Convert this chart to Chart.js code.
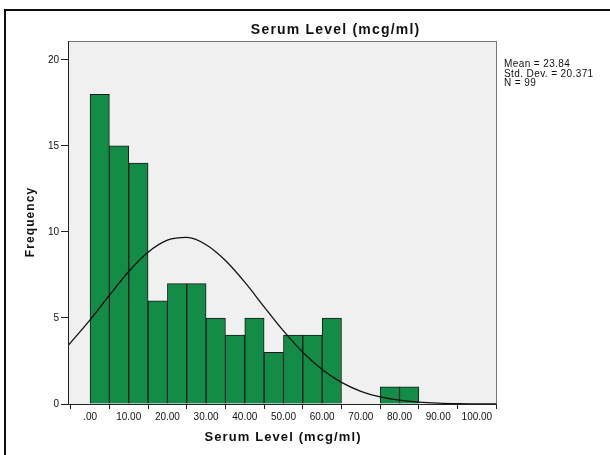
<!DOCTYPE html>
<html>
<head>
<meta charset="utf-8">
<script src="https://cdn.jsdelivr.net/npm/chart.js@4/dist/chart.umd.min.js"></script>
<style>
html,body{margin:0;padding:0;background:#fff;}
#wrap{position:relative;width:610px;height:455px;}
#frame{position:absolute;left:4px;top:9px;right:0;bottom:0;border-top:2px solid #111;border-left:2px solid #111;}
canvas{position:absolute;left:0;top:0;}
</style>
</head>
<body>
<div id="wrap"><div id="frame"></div><canvas id="c" width="610" height="455"></canvas></div>
<script>
// Histogram bins (lower edges) and frequencies
const binStarts = [0,5,10,15,20,25,30,35,40,45,50,55,60,65,70,75,80];
const frequencies = [18,15,14,6,7,7,5,4,5,3,4,4,5,0,0,1,1];
const binWidth = 5;
// Normal curve
const curveX = [-5.7,0,5,10,15,20,25,30,35,40,45,50,55,60,65,70,75,80,85,90,95,100,105.2];
const curveY = [3.39,4.89,6.32,7.70,8.82,9.52,9.68,9.26,8.34,7.08,5.65,4.25,3.01,2.01,1.26,0.74,0.41,0.22,0.11,0.05,0.02,0.01,0.003];
const xTickLabels = [0,10,20,30,40,50,60,70,80,90,100];
const yTickLabels = [0,5,10,15,20];
const statsText = ['Mean = 23.84','Std. Dev. = 20.371','N = 99'];
const titleText = 'Serum Level (mcg/ml)';
const xTitle = 'Serum Level (mcg/ml)';
const yTitle = 'Frequency';

const FONT = '"Liberation Sans", Arial, sans-serif';

const barData = binStarts.map((b,i)=>({x:b+binWidth/2, y:frequencies[i]}));
const lineData = curveX.map((x,i)=>({x:x, y:curveY[i]}));

function spacedText(ctx, text, x, y, spacing){
  ctx.letterSpacing = spacing + 'px';
  const w = ctx.measureText(text).width;
  ctx.textAlign = 'left';
  ctx.fillText(text, x - (w - spacing)/2, y);
  ctx.letterSpacing = '0px';
}

const decor = {
  id:'decor',
  beforeDatasetsDraw(chart){
    const {ctx, chartArea:a} = chart;
    ctx.save();
    ctx.fillStyle = '#f0f0f0';
    ctx.fillRect(a.left, a.top, a.right-a.left, a.bottom-a.top);
    ctx.restore();
  },
  afterDraw(chart){
    const {ctx, chartArea:a} = chart;
    ctx.save();
    ctx.strokeStyle = '#777';
    ctx.lineWidth = 1;
    ctx.strokeRect(a.left+0.5, a.top+0.5, a.right-a.left-1, a.bottom-a.top);
    ctx.strokeStyle = '#222';
    ctx.beginPath();
    ctx.moveTo(a.left+0.5, a.top); ctx.lineTo(a.left+0.5, a.bottom+0.5); ctx.lineTo(a.right, a.bottom+0.5);
    ctx.stroke();
    ctx.fillStyle = '#111';
    ctx.textBaseline = 'middle';
    ctx.font = 'bold 14px ' + FONT;
    spacedText(ctx, titleText, 335, 30, 1.2);
    ctx.font = 'bold 13px ' + FONT;
    spacedText(ctx, xTitle, (a.left+a.right)/2, 437, 1.1);
    ctx.save();
    ctx.translate(31, (a.top+a.bottom)/2);
    ctx.rotate(-Math.PI/2);
    ctx.font = 'bold 12px ' + FONT;
    spacedText(ctx, yTitle, 0, 0, 1.1);
    ctx.restore();
    ctx.font = '10px ' + FONT;
    ctx.textAlign = 'left';
    ctx.letterSpacing = '0.4px';
    statsText.forEach((t,i)=>ctx.fillText(t, 504, 64+i*9.8));
    ctx.letterSpacing = '0px';
    ctx.restore();
  }
};

new Chart(document.getElementById('c'), {
  type:'bar',
  data:{
    datasets:[
      {type:'line', data:lineData, borderColor:'#111', borderWidth:1.3, pointRadius:0, cubicInterpolationMode:'monotone', fill:false, order:0},
      {type:'bar', data:barData, backgroundColor:'#138c47', borderColor:'#1a1a1a', borderWidth:1, barPercentage:1, categoryPercentage:1, order:1}
    ]
  },
  plugins:[decor],
  options:{
    responsive:false,
    animation:false,
    layout:{padding:{left:0, top:41, right:113, bottom:0}},
    plugins:{legend:{display:false}, tooltip:{enabled:false}, title:{display:false}},
    scales:{
      x:{
        type:'linear', min:-5.7, max:105.2, offset:false,
        afterBuildTicks(s){ s.ticks = xTickLabels.map(v=>({value:v})); },
        afterFit(s){ s.height = 51; },
        ticks:{color:'#111', font:{family:FONT, size:10}, padding:2, maxRotation:0, autoSkip:false,
          callback:(v)=> v===0 ? '.00' : Number(v).toFixed(2)},
        grid:{display:true, drawOnChartArea:false, drawTicks:true, tickLength:5, color:'#222'},
        border:{display:false},
        title:{display:false}
      },
      y:{
        min:0, max:21.1,
        afterBuildTicks(s){ s.ticks = yTickLabels.map(v=>({value:v})); },
        afterFit(s){ s.width = 68; },
        ticks:{color:'#111', font:{family:FONT, size:10}, padding:2},
        grid:{display:true, drawOnChartArea:false, drawTicks:true, tickLength:7, color:'#222'},
        border:{display:false},
        title:{display:false}
      }
    }
  }
});
</script>
</body>
</html>
